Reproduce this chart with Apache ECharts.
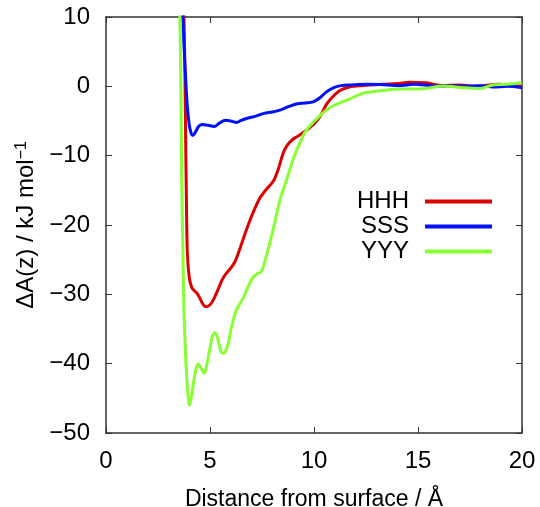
<!DOCTYPE html>
<html>
<head>
    <meta charset="UTF-8">
    <title>Free energy profile</title>
    <script src="https://cdn.jsdelivr.net/npm/echarts@6/dist/echarts.min.js"></script>
</head>
<body style="margin:0">
    <div id="main" style="width:540px; height:507px;"></div>
    <script>
        // curve data: [distance / Å, ΔA / kJ mol-1]
        var hhh = [
            [3.72, 14], [3.78, 5], [3.82, -5], [3.86, -15], [3.91, -24], [4.0, -27.5], [4.12, -29],
            [4.25, -29.5], [4.39, -29.9], [4.55, -30.8], [4.7, -31.6], [4.81, -31.8], [5.0, -31.5],
            [5.16, -30.8], [5.4, -29.2], [5.6, -27.8], [5.8, -26.9], [6.0, -26.2], [6.2, -25.3],
            [6.45, -23.3], [6.76, -20.6], [7.1, -18], [7.4, -16.1], [7.7, -14.9], [8.04, -13.7],
            [8.3, -11.8], [8.5, -9.8], [8.69, -8.6], [9.0, -7.6], [9.33, -7.0], [9.65, -6.3],
            [9.97, -5.5], [10.3, -4.3], [10.6, -2.6], [10.9, -1.5], [11.25, -0.6], [11.7, -0.1],
            [12.3, 0.1], [13.3, 0.3], [14.0, 0.4], [14.6, 0.6], [15.4, 0.5], [16.2, 0.1],
            [17.0, 0.2], [17.8, 0.0], [18.9, 0.3], [20, 0.0]
        ];
        var sss = [
            [3.66, 14], [3.72, 8], [3.8, 2.9], [3.9, -2.5], [4.0, -5.5], [4.1, -6.8], [4.17, -7.1],
            [4.3, -6.6], [4.45, -5.8], [4.6, -5.5], [4.9, -5.6], [5.2, -5.8], [5.45, -5.3],
            [5.75, -4.9], [6.0, -5.0], [6.28, -5.2], [6.5, -4.9], [6.8, -4.6], [7.2, -4.3],
            [7.6, -3.9], [8.0, -3.7], [8.4, -3.4], [8.8, -2.9], [9.2, -2.5], [9.6, -2.4],
            [9.95, -2.25], [10.3, -1.6], [10.6, -0.8], [10.95, -0.2], [11.3, 0.1], [11.8, 0.2],
            [12.5, 0.3], [13.2, 0.25], [14.1, 0.1], [14.8, 0.3], [15.7, 0.1], [16.5, 0.05],
            [17.3, 0], [18.0, 0.1], [18.6, -0.1], [19.3, 0.0], [20, -0.2]
        ];
        var yyy = [
            [3.52, 14], [3.58, 5], [3.64, -13.4], [3.7, -24], [3.75, -32.6], [3.83, -39],
            [3.91, -43.2], [4.01, -46], [4.12, -44.5], [4.23, -42.3], [4.35, -40.5], [4.44, -40.1],
            [4.58, -40.7], [4.73, -41.4], [4.87, -39.8], [5.0, -37.7], [5.12, -36.0], [5.24, -35.5],
            [5.38, -36.5], [5.52, -38.2], [5.64, -38.5], [5.76, -38.1], [5.88, -37], [6.05, -34.5],
            [6.28, -32.2], [6.6, -30.5], [6.85, -28.8], [7.08, -27.5], [7.3, -27.0], [7.48, -26.7],
            [7.75, -24], [8.04, -20.6], [8.37, -16.3], [8.69, -13.4], [9.0, -10.5], [9.3, -8.3],
            [9.57, -6.6], [9.9, -5.4], [10.3, -4.2], [10.6, -3.4], [10.93, -2.8], [11.3, -2.3],
            [11.73, -1.8], [12.1, -1.3], [12.5, -0.9], [13.3, -0.6], [14.1, -0.4], [14.8, -0.4],
            [15.4, -0.3], [16.2, 0.05], [16.8, -0.1], [17.3, -0.2], [18.0, -0.3], [18.6, 0.2],
            [19.3, 0.3], [20, 0.5]
        ];
        var names = ['HHH', 'SSS', 'YYY'];
        var colors = ['#dd0000', '#0010ff', '#88ff33'];

        var font = 'Liberation Sans, Arial, sans-serif';
        var axisLine = { show: true, onZero: false, lineStyle: { color: '#333', width: 1.5 } };
        var ticks = { show: true, inside: true, length: 6, lineStyle: { color: '#333', width: 1 } };
        function minus(v) { return String(v).replace('-', '\u2212'); }

        var chart = echarts.init(document.getElementById('main'));

        var option = {
            animation: false,
            grid: { left: 106, right: 18, top: 17, bottom: 74, containLabel: false, outerBoundsMode: 'none' },
            legend: {
                data: names,
                orient: 'vertical',
                right: 43,
                top: 184,
                align: 'right',
                icon: 'rect',
                itemWidth: 67,
                itemHeight: 4,
                itemGap: 0,
                textStyle: { fontFamily: font, fontSize: 24, lineHeight: 25, color: '#000', padding: [0, 11, 0, 0] }
            },
            xAxis: [{
                type: 'value', min: 0, max: 20, interval: 5,
                name: 'Distance from surface / Å',
                nameLocation: 'middle', nameGap: 55,
                nameTextStyle: { fontFamily: font, fontSize: 23, color: '#000' },
                axisLine: axisLine, axisTick: ticks, splitLine: { show: false },
                axisLabel: { fontFamily: font, fontSize: 24, color: '#000', margin: 16, formatter: minus }
            }, {
                type: 'value', min: 0, max: 20, interval: 5, position: 'top',
                axisLine: axisLine, axisTick: ticks, splitLine: { show: false },
                axisLabel: { show: false }
            }],
            yAxis: [{
                type: 'value', min: -50, max: 10, interval: 10,
                name: 'ΔA(z) / kJ mol{sup|−1}',
                nameLocation: 'middle', nameGap: 59,
                nameTextStyle: {
                    fontFamily: font, fontSize: 24, color: '#000',
                    rich: { sup: { fontFamily: font, fontSize: 16, color: '#000', verticalAlign: 'top', lineHeight: 26 } }
                },
                axisLine: axisLine, axisTick: ticks, splitLine: { show: false },
                axisLabel: { fontFamily: font, fontSize: 24, color: '#000', margin: 16, formatter: minus }
            }, {
                type: 'value', min: -50, max: 10, interval: 10, position: 'right',
                axisLine: axisLine, axisTick: ticks, splitLine: { show: false },
                axisLabel: { show: false }
            }],
            series: [hhh, sss, yyy].map(function (d, i) {
                return {
                    name: names[i],
                    type: 'line',
                    data: d,
                    smooth: 0.3,
                    showSymbol: false,
                    clip: true,
                    color: colors[i],
                    lineStyle: { width: 3, color: colors[i] }
                };
            })
        };

        chart.setOption(option);
    </script>
</body>
</html>
